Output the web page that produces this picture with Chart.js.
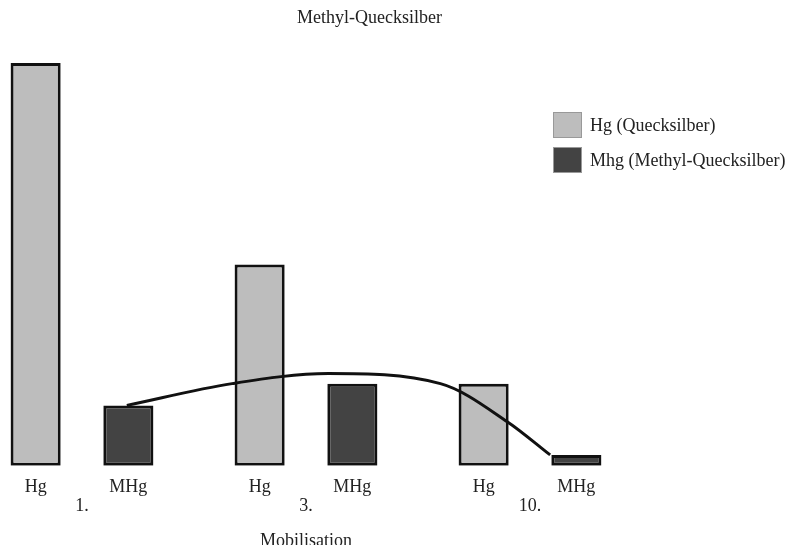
<!DOCTYPE html>
<html>
<head>
<meta charset="utf-8">
<script src="https://cdn.jsdelivr.net/npm/chart.js@4"></script>
<style>
  html, body { margin: 0; padding: 0; background: #fff; }
  body { width: 789px; height: 545px; overflow: hidden; position: relative; }
  #wrap { position: absolute; left: -30px; top: 0; width: 799px; height: 556px; }
  #legend { position: absolute; left: 553px; top: 112px; font: 18px "Liberation Serif", "DejaVu Serif", serif; color: #222; white-space: nowrap; }
  #legend .row { display: flex; align-items: center; height: 26px; margin-bottom: 9px; }
  #legend .box { width: 29px; height: 26px; margin-right: 8px; box-sizing: border-box; border: 1px solid #999; }
</style>
</head>
<body>
<div id="wrap"><canvas id="chart"></canvas></div>
<div id="legend"></div>
<script>
// Daten
const gruppen = ['1.', '3.', '10.'];
const serienNamen = ['Hg (Quecksilber)', 'Mhg (Methyl-Quecksilber)'];
const balkenTexte = ['Hg', 'MHg'];
const hgWerte = [100, 50, 20.4];
const mhgWerte = [15, 20.4, 2.7];
const farben = ['#bdbdbd', '#434343'];

// Kurve ueber den MHg-Balken (x in Gruppen-Einheiten, 0 = "1.")
const kurveX = [0.2, 0.67, 1.1, 1.6, 1.9, 2.09];
const kurveY = [15, 20.4, 22.9, 20.4, 10.9, 2.7];

const schrift = '"Liberation Serif", "DejaVu Serif", serif';

// Beschriftung unter jedem Balken
const balkenLabels = {
  id: 'balkenLabels',
  afterDatasetsDraw(chart) {
    const ctx = chart.ctx;
    ctx.save();
    ctx.font = '18px ' + schrift;
    ctx.fillStyle = '#222';
    ctx.textAlign = 'center';
    ctx.textBaseline = 'middle';
    [1, 2].forEach((d, i) => {
      chart.getDatasetMeta(d).data.forEach(bar => {
        ctx.fillText(balkenTexte[i], bar.x, chart.chartArea.bottom + 21);
      });
    });
    ctx.restore();
  }
};

const ctx = document.getElementById('chart').getContext('2d');
const chart = new Chart(ctx, {
  type: 'bar',
  data: {
    labels: gruppen,
    datasets: [
      {
        type: 'line',
        label: 'Kurve',
        data: kurveX.map((x, i) => ({ x: x, y: kurveY[i] })),
        parsing: false,
        borderColor: '#111',
        borderWidth: 3,
        pointRadius: 0,
        cubicInterpolationMode: 'monotone',
        fill: false,
        order: 0
      },
      {
        label: serienNamen[0],
        data: hgWerte,
        backgroundColor: farben[0],
        borderColor: '#111',
        borderWidth: 3,
        borderSkipped: false,
        categoryPercentage: 0.828,
        barPercentage: 0.54,
        order: 1
      },
      {
        label: serienNamen[1],
        data: mhgWerte,
        backgroundColor: farben[1],
        borderColor: '#111',
        borderWidth: 3,
        borderSkipped: false,
        categoryPercentage: 0.828,
        barPercentage: 0.54,
        order: 1
      }
    ]
  },
  options: {
    responsive: true,
    maintainAspectRatio: false,
    animation: false,
    plugins: {
      legend: { display: false },
      tooltip: { enabled: false },
      title: {
        display: true,
        text: 'Methyl-Quecksilber',
        color: '#222',
        font: { family: schrift, size: 18, weight: 'normal' },
        padding: { top: 7, bottom: 34.4 }
      }
    },
    scales: {
      x: {
        grid: { display: false, drawTicks: false },
        border: { display: false },
        ticks: { color: '#222', padding: 30, font: { family: schrift, size: 18 } },
        title: {
          display: true,
          text: 'Mobilisation',
          color: '#222',
          font: { family: schrift, size: 18 },
          padding: { top: -17, bottom: 4 }
        }
      },
      y: {
        position: 'right',
        min: 0,
        max: 100,
        grid: { display: false, drawTicks: false },
        border: { display: false },
        ticks: { display: false },
        // Platz rechts neben dem Diagramm (dort steht die Legende)
        afterFit(scale) { scale.width = 127; }
      }
    }
  },
  plugins: [balkenLabels]
});

// Legende als HTML aus denselben Daten
const legende = document.getElementById('legend');
serienNamen.forEach((name, i) => {
  const row = document.createElement('div');
  row.className = 'row';
  const box = document.createElement('div');
  box.className = 'box';
  box.style.background = farben[i];
  const txt = document.createElement('span');
  txt.textContent = name;
  row.appendChild(box);
  row.appendChild(txt);
  legende.appendChild(row);
});
</script>
</body>
</html>
